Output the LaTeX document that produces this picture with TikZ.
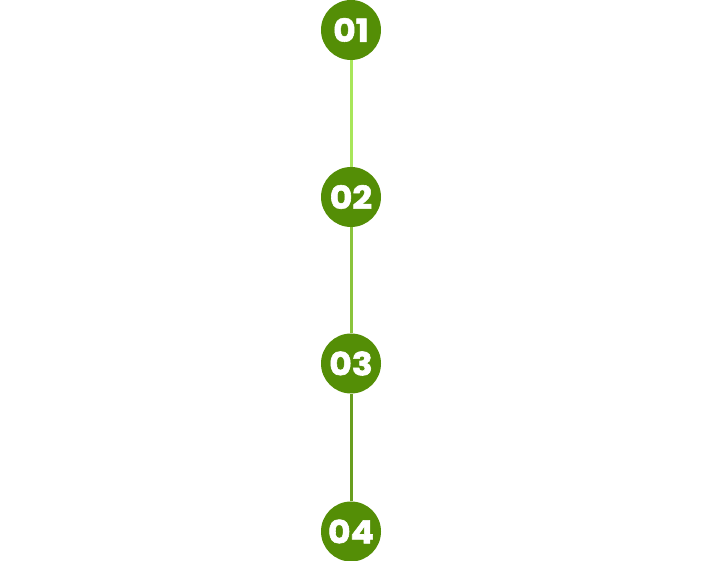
\documentclass[tikz,border=0pt]{standalone}
\usepackage{fontspec}
\setmainfont{Poppins}
\newfontfamily\numfont{Poppins}[FakeStretch=1.08,FakeBold=1.8]
\definecolor{circ}{RGB}{84,142,6}
\definecolor{lineA}{RGB}{168,230,90}
\definecolor{lineB}{RGB}{138,196,60}
\definecolor{lineC}{RGB}{104,158,30}
\begin{document}
\begin{tikzpicture}[x=1pt,y=1pt,
  stepcircle/.style={circle,fill=circ,minimum size=60pt,inner sep=0pt,text=white,font=\fontsize{32}{32}\numfont\bfseries},
  link/.style={line width=3pt}]
\useasboundingbox (0,0) rectangle (709,561);
\node[stepcircle] (s1) at (351,531) {01};
\node[stepcircle] (s2) at (351,364) {02};
\node[stepcircle] (s3) at (351,197.5) {03};
\node[stepcircle] (s4) at (351,29.5) {04};
\draw[link,lineA] (s1) -- (s2);
\draw[link,lineB] (s2) -- (s3);
\draw[link,lineC] (s3) -- (s4);
\end{tikzpicture}
\end{document}
